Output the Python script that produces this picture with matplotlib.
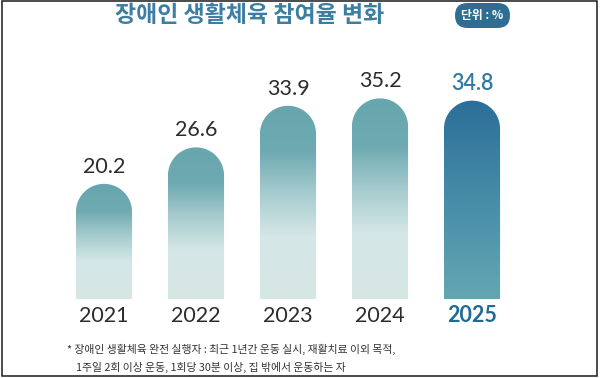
import numpy as np
import matplotlib
matplotlib.use("Agg")
import matplotlib.pyplot as plt
from matplotlib.path import Path
from matplotlib.patches import PathPatch, FancyBboxPatch, Rectangle
from matplotlib.colors import LinearSegmentedColormap
from matplotlib.transforms import IdentityTransform

plt.rcParams['font.family'] = ['Noto Sans CJK KR', 'DejaVu Sans']

years = ["2021", "2022", "2023", "2024", "2025"]
values = [20.2, 26.6, 33.9, 35.2, 34.8]
title = "장애인 생활체육 참여율 변화"
unit_label = "단위 : %"
note_lines = ["* 장애인 생활체육 완전 실행자 : 최근 1년간 운동 실시, 재활치료 이외 목적,",
              "1주일 2회 이상 운동, 1회당 30분 이상, 집 밖에서 운동하는 자"]

W, H = 600, 378
fig = plt.figure(figsize=(W / 100, H / 100), dpi=100)
fig.patch.set_facecolor("white")

ax_l, ax_b, ax_w, ax_h = 58, 79, 460, 228
ax = fig.add_axes([ax_l / W, ax_b / H, ax_w / W, ax_h / H])
xmin, xmax, ymin, ymax = -0.5, 4.5, 0, 40
ax.set_xlim(xmin, xmax)
ax.set_ylim(ymin, ymax)
ax.axis("off")

px_x = ax_w / (xmax - xmin)
px_y = ax_h / (ymax - ymin)
bw = 0.61
rx = bw / 2
ry = rx * px_x / px_y

cmap_teal = LinearSegmentedColormap.from_list(
    "teal", [(0.0, "#d6e7e6"), (0.33, "#d4e6e5"), (0.55, "#a5cbce"),
             (0.76, "#6faab2"), (1.0, "#67a6ae")])
cmap_blue = LinearSegmentedColormap.from_list(
    "blue", [(0.0, "#64a7b2"), (0.45, "#4a8faa"), (1.0, "#2c6e98")])

num_font = ["Lato", "DejaVu Sans"]
grad = np.linspace(0, 1, 256).reshape(-1, 1)
for i, v in enumerate(values):
    x0, x1 = i - bw / 2, i + bw / 2
    theta = np.linspace(0, np.pi, 60)
    arc = np.column_stack([i + rx * np.cos(theta), v - ry + ry * np.sin(theta)])
    verts = np.vstack([[x0, 0], [x1, 0], [x1, v - ry], arc, [x0, 0]])
    codes = [Path.MOVETO] + [Path.LINETO] * (len(verts) - 2) + [Path.CLOSEPOLY]
    patch = PathPatch(Path(verts, codes), facecolor="none", edgecolor="none",
                      transform=ax.transData)
    ax.add_patch(patch)
    last = i == len(values) - 1
    cm = cmap_blue if last else cmap_teal
    im = ax.imshow(grad, cmap=cm, origin="lower", extent=[x0, x1, 0, v],
                   aspect="auto", interpolation="bicubic", zorder=2)
    im.set_clip_path(patch)

    ax.annotate(f"{v:.1f}", (i, v), xytext=(0, 17), textcoords="offset pixels",
                ha="center", va="center", fontsize=15.5,
                color="#2f7aa2" if last else "#2b2b2b",
                family=num_font,
                fontweight="semibold" if last else "normal")
    ax.annotate(years[i], (i, 0), xytext=(0, -17), textcoords="offset pixels",
                ha="center", va="center", fontsize=15.5,
                color="#1f6b98" if last else "#2b2b2b",
                family=num_font,
                fontweight="bold" if last else "normal")

ax.set_xlim(xmin, xmax)
ax.set_ylim(ymin, ymax)

fig.text(250 / W, 1 - 15 / H, title, ha="center", va="center", fontsize=16.5,
         fontweight="bold", color="#3b7ea2")

badge = FancyBboxPatch((455, H - 28), 55, 25,
                       boxstyle="round,pad=0,rounding_size=12.5",
                       facecolor="#2f6e92", edgecolor="none",
                       transform=IdentityTransform())
fig.patches.append(badge)
fig.text(482.5 / W, 1 - 15.5 / H, unit_label, ha="center", va="center",
         fontsize=8.5, fontweight="bold", color="white")

fig.text(67 / W, 29 / H, note_lines[0], ha="left", va="center", fontsize=7.8,
         color="#333333")
fig.text(76 / W, 11 / H, note_lines[1], ha="left", va="center", fontsize=7.8,
         color="#333333")

frame = Rectangle((1.5, 2.5), 595.5, 375, facecolor="none", edgecolor="#1a1a1a",
                  linewidth=1.1, transform=IdentityTransform())
fig.patches.append(frame)

fig.savefig("out.png", dpi=100)
